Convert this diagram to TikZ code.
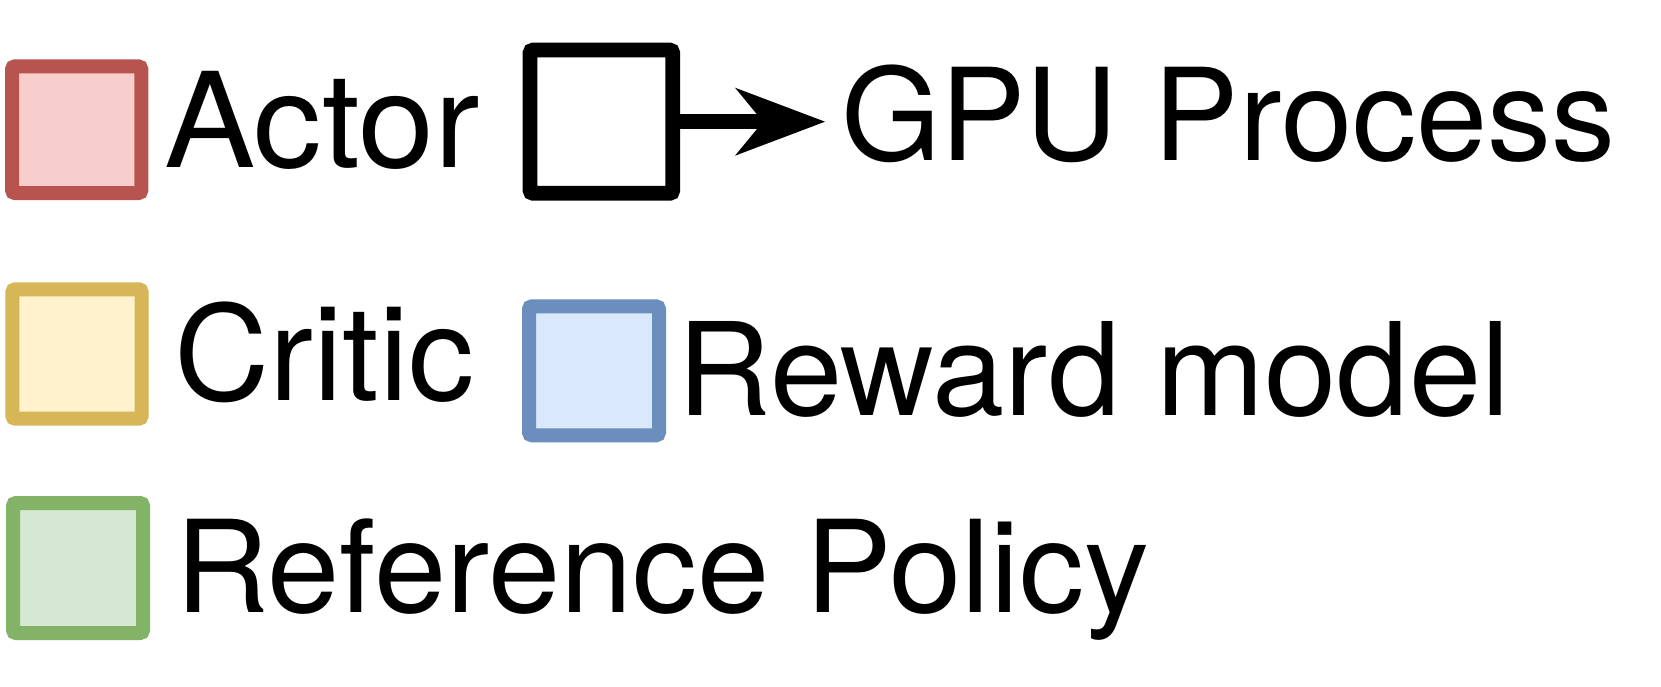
\documentclass[tikz,border=0pt]{standalone}
\usepackage{fontspec}
\setmainfont{TeX Gyre Heros}
\usetikzlibrary{arrows.meta}
\definecolor{actorS}{HTML}{B85450}\definecolor{actorF}{HTML}{F8CECC}
\definecolor{criticS}{HTML}{D6B656}\definecolor{criticF}{HTML}{FFF2CC}
\definecolor{refS}{HTML}{82B366}\definecolor{refF}{HTML}{D5E8D4}
\definecolor{rewS}{HTML}{6C8EBF}\definecolor{rewF}{HTML}{DAE8FC}
\tikzset{
  legbox/.style={draw, rectangle, rounded corners=3pt, line width=14pt, inner sep=0pt, outer sep=0pt},
  legtext/.style={anchor=base west, inner sep=0pt, outer sep=0pt},
}
\newcommand{\bigfont}[2]{\fontsize{#1}{#1}\selectfont\addfontfeatures{FakeStretch=#2}}
\begin{document}
\begin{tikzpicture}[x=1pt,y=-1pt]
\useasboundingbox (0,0) rectangle (1661,687);
% legend boxes
\node[legbox, draw=actorS, fill=actorF, minimum width=129.3pt, minimum height=126.7pt] (actor) at (76.7,129.7) {};
\node[legbox, draw=criticS, fill=criticF, minimum width=129.3pt, minimum height=129.4pt] (critic) at (77,354) {};
\node[legbox, draw=refS, fill=refF, minimum width=130pt, minimum height=130pt] (ref) at (78,568) {};
\node[legbox, draw=rewS, fill=rewF, minimum width=130pt, minimum height=129pt] (rew) at (594,370.8) {};
\node[legbox, draw=black, fill=white, line width=14.7pt, minimum width=142.7pt, minimum height=143.3pt] (gpu) at (601.4,121.7) {};
\coordinate (tip) at (825,121.7);
\draw[line width=15pt, -{Stealth[length=90pt, width=68pt, inset=28pt, line width=0pt]}] (gpu.east) -- (tip);
% texts
\node[legtext] (tactor) at (164,167.3) {\bigfont{132}{1.035}Actor};
\node[legtext] (tcritic) at (174,400) {\bigfont{132}{1.0}Critic};
\node[legtext] (tref) at (175,612) {\bigfont{128}{1.015}Reference Policy};
\node[legtext] (trew) at (677.5,415) {\bigfont{129}{1.007}Reward model};
\node[legtext] (tgpu) at (841,161) {\bigfont{128}{1.0}GPU Process};
\end{tikzpicture}
\end{document}
